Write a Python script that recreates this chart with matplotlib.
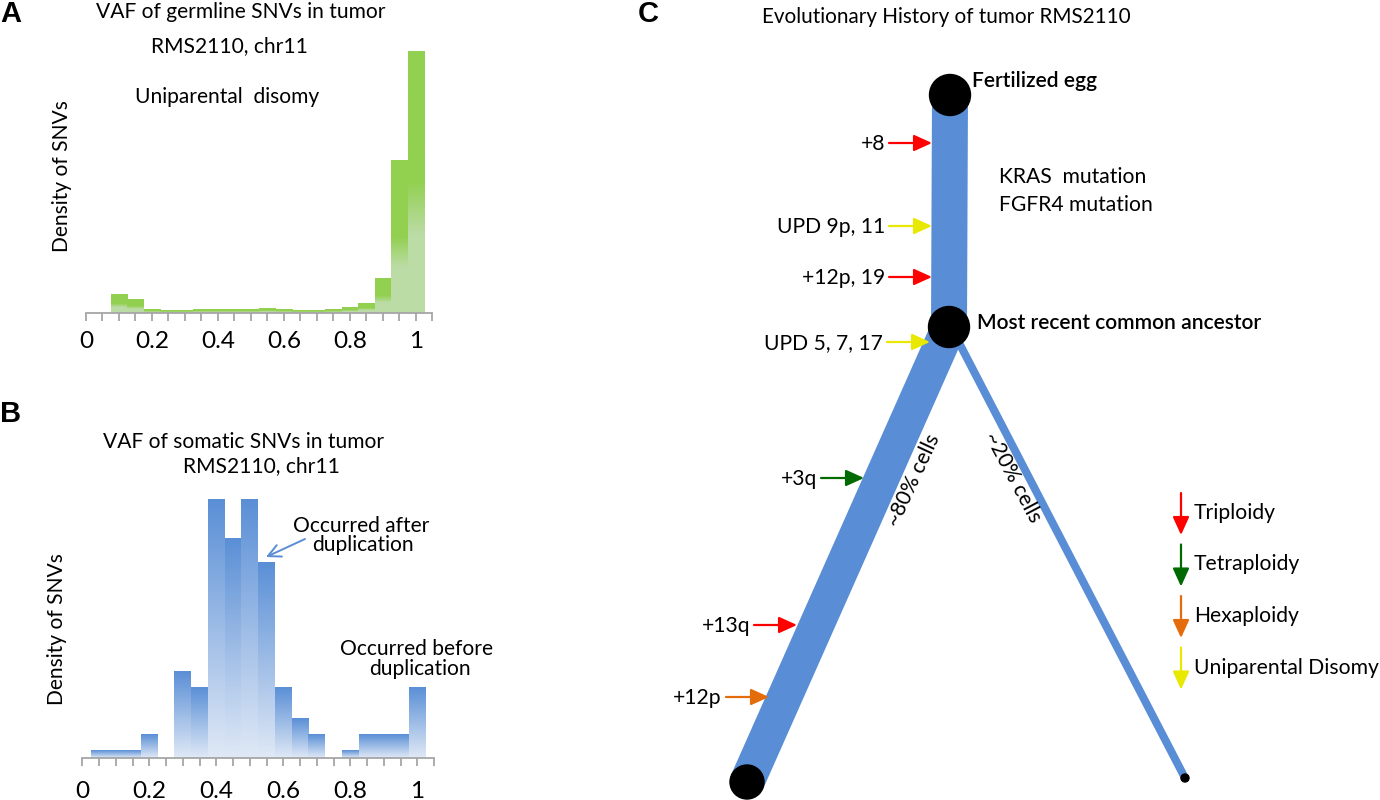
import numpy as np
import matplotlib
matplotlib.use('Agg')
import matplotlib.pyplot as plt
from matplotlib.colors import LinearSegmentedColormap
from matplotlib.patches import Circle, FancyArrowPatch

plt.rcParams['font.family'] = ['Lato', 'DejaVu Sans']

## DATA
# panel A: germline SNV VAF histogram (bin centres, relative density)
germ_vaf = [0.10, 0.15, 0.20, 0.25, 0.30, 0.35, 0.40, 0.45, 0.50, 0.55,
            0.60, 0.65, 0.70, 0.75, 0.80, 0.85, 0.90, 0.95, 1.00]
germ_density = [55, 42, 10, 7, 8, 11, 10, 10, 10, 13,
                10, 7, 8, 11, 18, 30, 103, 458, 785]

# panel B: somatic SNV VAF histogram (bin centres, counts)
som_vaf = [0.05, 0.10, 0.15, 0.20, 0.25, 0.30, 0.35, 0.40, 0.45, 0.50,
           0.55, 0.60, 0.65, 0.70, 0.75, 0.80, 0.85, 0.90, 0.95, 1.00]
som_counts = [1, 1, 1, 3, 0, 11, 9, 33, 28, 33,
              25, 9, 5, 3, 0, 1, 3, 3, 3, 9]

tick_pos = [0, 0.05, 0.1, 0.15, 0.2, 0.25, 0.3, 0.35, 0.4, 0.45, 0.5,
            0.55, 0.6, 0.65, 0.7, 0.75, 0.8, 0.85, 0.9, 0.95, 1.0, 1.05]
tick_labels = ['0', '', '', '', '0.2', '', '', '', '0.4', '', '', '', '0.6',
               '', '', '', '0.8', '', '', '', '1', '']

# panel C: tree nodes (pixel space of the drawing)
egg_xy = (950, 95)
mrca_xy = (949, 327)
major_end = (747, 782)
minor_end = (1185, 778)

events_left = ['+8', 'UPD 9p, 11', '+12p, 19', 'UPD 5, 7, 17', '+3q', '+13q', '+12p']
events_kind = ['tri', 'upd', 'tri', 'upd', 'tetra', 'tri', 'hexa']
events_xy = [(932, 143), (932, 226), (932, 277), (930, 342),
             (864, 478), (797, 625), (769, 697)]

legend_kind = ['tri', 'tetra', 'hexa', 'upd']
legend_names = ['Triploidy', 'Tetraploidy', 'Hexaploidy', 'Uniparental Disomy']

kind_color = {'tri': '#ff0000', 'tetra': '#006a00', 'hexa': '#e46c0a', 'upd': '#e8e800'}

BLUE = '#598dd5'
W, H = 1380, 800
fig = plt.figure(figsize=(13.8, 8), dpi=100)
renderer = fig.canvas.get_renderer()


def fit_size(s, target_px, **kw):
    # font size that gives the string the same width as in the reference
    t = fig.text(0, 0, s, fontsize=10, **kw)
    w = t.get_window_extent(renderer).width
    t.remove()
    return 10 * target_px / w


FS_TXT = fit_size('VAF of germline SNVs in tumor', 290)
FS_TICK = fit_size('0.2', 34)
FS_C = fit_size('Uniparental Disomy', 184)
FS_CT = fit_size('Evolutionary History of tumor RMS2110', 368)
FS_NODE = fit_size('Most recent common ancestor', 285, weight='semibold')


def px_axes(left, spine_y, width, height):
    return fig.add_axes([left / W, (H - spine_y) / H, width / W, height / H])


def gradient_bars(ax, centers, heights, cmap, width=0.05):
    grad = np.linspace(0, 1, 256).reshape(-1, 1)
    for c, h in zip(centers, heights):
        if h <= 0:
            continue
        ax.imshow(grad, extent=[c - width / 2, c + width / 2, 0, h], origin='lower',
                  aspect='auto', cmap=cmap, interpolation='bilinear', zorder=2)


def style_hist(ax, ymax, pad):
    ax.set_xlim(0, 1.05)
    ax.set_ylim(0, ymax)
    for s in ['top', 'right', 'left']:
        ax.spines[s].set_visible(False)
    ax.spines['bottom'].set_color('#a6a6a6')
    ax.spines['bottom'].set_linewidth(1.3)
    ax.set_yticks([])
    ax.set_xticks(tick_pos, tick_labels)
    ax.tick_params(axis='x', length=6, width=1.3, color='#a6a6a6', labelsize=FS_TICK, pad=pad)
    ax.patch.set_visible(False)


# A
green_cmap = LinearSegmentedColormap.from_list(
    'g', [(0, '#bcdca6'), (0.30, '#bcdca6'), (0.50, '#92d050'), (1, '#92d050')])
axA = px_axes(86, 313, 1.05 * 329.8, 800 / 3)
gradient_bars(axA, germ_vaf, germ_density, green_cmap)
style_hist(axA, 800, 7)

# B
blue_cmap = LinearSegmentedColormap.from_list('b', ['#e0e9f6', '#5a8fd6'])
axB = px_axes(82.3, 757.7, 1.05 * 335, 300)
gradient_bars(axB, som_vaf, som_counts, blue_cmap)
style_hist(axB, 300 / 7.84, 11)

# overlay in pixel space
ov = fig.add_axes([0, 0, 1, 1])
ov.set_xlim(0, W)
ov.set_ylim(H, 0)
ov.axis('off')
ov.patch.set_visible(False)

lab = dict(family=['Liberation Sans', 'DejaVu Sans'], weight='bold', fontsize=21)
ov.text(0, 22, 'A', **lab)
ov.text(0, 422, 'B', **lab)
ov.text(638, 22, 'C', **lab)

t = dict(fontsize=FS_TXT, ha='center', va='baseline')
ov.text(241, 18, 'VAF of germline SNVs in tumor', **t)
ov.text(229, 52, 'RMS2110, chr11', **t)
ov.text(227, 103, 'Uniparental  disomy', **t)
ov.text(62, 176, 'Density of SNVs', rotation=90, fontsize=FS_TXT, ha='center', va='center')

ov.text(244, 448, 'VAF of somatic SNVs in tumor', **t)
ov.text(261, 472, 'RMS2110, chr11', **t)
ov.text(361, 532, 'Occurred after', **t)
ov.text(363, 551, 'duplication', **t)
ov.text(417, 655, 'Occurred before', **t)
ov.text(420, 675, 'duplication', **t)
ov.text(57, 629, 'Density of SNVs', rotation=90, fontsize=FS_TXT, ha='center', va='center')
ov.add_patch(FancyArrowPatch((305, 539), (266, 557), arrowstyle='->,head_length=0.9,head_width=0.45',
                             mutation_scale=10, lw=1.4, color=BLUE, shrinkA=0, shrinkB=0))

# C: tree
ov.text(946, 23, 'Evolutionary History of tumor RMS2110', fontsize=FS_CT, ha='center', va='baseline')
ov.plot([egg_xy[0], mrca_xy[0]], [egg_xy[1], mrca_xy[1]], color=BLUE, lw=36 * 0.72,
        solid_capstyle='butt', zorder=2)
ov.plot([mrca_xy[0], major_end[0]], [mrca_xy[1], major_end[1]], color=BLUE, lw=35 * 0.72,
        solid_capstyle='butt', zorder=2)
ov.plot([mrca_xy[0] + 6, minor_end[0]], [mrca_xy[1] + 8, minor_end[1]], color=BLUE, lw=8 * 0.72,
        solid_capstyle='butt', zorder=2)
for xy, r in [(egg_xy, 20.5), (mrca_xy, 20.5), (major_end, 17), (minor_end, 4)]:
    ov.add_patch(Circle(xy, r, color='black', zorder=3))

ov.text(972, 87, 'Fertilized egg', fontsize=FS_NODE, weight='semibold', va='baseline')
ov.text(977, 329, 'Most recent common ancestor', fontsize=FS_NODE, weight='semibold', va='baseline')
ov.text(999, 183, 'KRAS  mutation', fontsize=FS_C, va='baseline')
ov.text(999, 211, 'FGFR4 mutation', fontsize=FS_C, va='baseline')


def arrow(p0, p1, color):
    ov.add_patch(FancyArrowPatch(p0, p1, arrowstyle='-|>,head_length=1.1,head_width=0.5',
                                 mutation_scale=10, lw=1.6, color=color,
                                 shrinkA=0, shrinkB=0, zorder=4))


for name, kind, (x, y) in zip(events_left, events_kind, events_xy):
    arrow((x - 43, y), (x, y), kind_color[kind])
    ov.text(x - 47, y + 7, name, fontsize=FS_C, ha='right', va='baseline')

ov.text(914, 480, '~80% cells', fontsize=FS_C, rotation=65, rotation_mode='anchor',
        ha='center', va='center')
ov.text(1013, 477, '~20% cells', fontsize=FS_C, rotation=-62, rotation_mode='anchor',
        ha='center', va='center')

for i, (kind, name) in enumerate(zip(legend_kind, legend_names)):
    y0 = 493 + i * 51.5
    arrow((1181, y0), (1181, y0 + 42), kind_color[kind])
    ov.text(1194, y0 + 26, name, fontsize=FS_C, va='baseline')

fig.savefig('out.png', dpi=100)
